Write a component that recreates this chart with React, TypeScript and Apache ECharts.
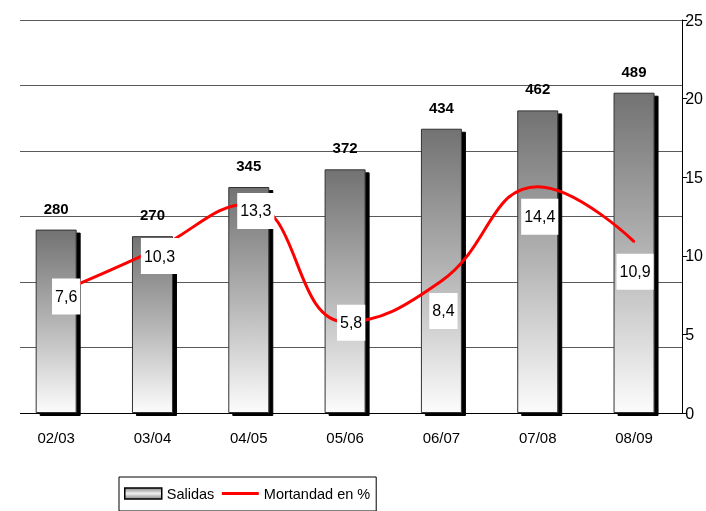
import React, { useEffect, useRef } from "react";
import * as echarts from "echarts";

const categories = ["02/03", "03/04", "04/05", "05/06", "06/07", "07/08", "08/09"];
const salidas = [280, 270, 345, 372, 434, 462, 489];
const mortandad = [7.6, 10.3, 13.3, 5.8, 8.4, 14.4, 10.9];
const leftTicks = { min: 0, max: 600, interval: 100 };
const rightTicks = { min: 0, max: 25, interval: 5 };
// label box offsets (styling only)
const labelOffsets = [
  [10, 3],
  [7, 5],
  [7, 7],
  [6, 1],
  [2, 30],
  [2, 30],
  [1, 30],
];

const FONT = "'Liberation Sans', Arial, sans-serif";

export default function App() {
  const ref = useRef<HTMLDivElement>(null);
  useEffect(() => {
    document.body.style.margin = "0";
    const chart = echarts.init(ref.current!, undefined, { renderer: "svg" });
    const barGradient = new echarts.graphic.LinearGradient(0, 0, 0, 1, [
      { offset: 0, color: "#727272" },
      { offset: 0.5, color: "#b4b4b4" },
      { offset: 1, color: "#fcfcfc" },
    ]);
    const legendGradient = new echarts.graphic.LinearGradient(0, 0, 0, 1, [
      { offset: 0, color: "#8a8a8a" },
      { offset: 0.5, color: "#f0f0f0" },
      { offset: 1, color: "#8a8a8a" },
    ]);
    chart.setOption({
      animation: false,
      textStyle: { fontFamily: FONT },
      grid: { left: 8, right: 21, top: 20, bottom: 98, containLabel: false },
      legend: {
        left: 119,
        top: 477,
        orient: "horizontal",
        borderColor: "#000",
        borderWidth: 1,
        padding: [9, 6, 10, 5],
        itemWidth: 37,
        itemHeight: 11,
        itemGap: 6,
        textStyle: { fontSize: 14.5, color: "#000", fontFamily: FONT },
        data: [
          {
            name: "Salidas",
            icon: "rect",
            itemStyle: {
              color: legendGradient,
              borderColor: "#000",
              borderWidth: 1.5,
              shadowColor: "rgba(0,0,0,0)",
              shadowOffsetX: 0,
              shadowOffsetY: 0,
            },
          },
          {
            name: "Mortandad en %",
            itemStyle: { color: "rgba(0,0,0,0)", borderWidth: 0 },
            lineStyle: { color: "#ff0000", width: 3 },
          },
        ],
      },
      xAxis: {
        type: "category",
        data: categories,
        axisLine: { lineStyle: { color: "#000", width: 1 } },
        axisTick: { length: 5, lineStyle: { color: "#000" } },
        axisLabel: { fontSize: 15, color: "#000", margin: 17, fontFamily: FONT },
      },
      yAxis: [
        {
          type: "value",
          ...leftTicks,
          axisLabel: { show: false },
          axisLine: { show: false },
          axisTick: { show: false },
          splitLine: { lineStyle: { color: "#5a5a5a", width: 1 } },
        },
        {
          type: "value",
          position: "right",
          ...rightTicks,
          axisLine: { show: true, lineStyle: { color: "#000" } },
          axisTick: { show: true, length: 5, lineStyle: { color: "#000" } },
          axisLabel: { fontSize: 16, color: "#000", margin: 3, fontFamily: FONT },
          splitLine: { show: false },
        },
      ],
      graphic: [
        {
          type: "rect",
          shape: { x: 0, y: 14, width: 20, height: 406 },
          style: { fill: "#fff" },
          z: 50,
        },
      ],
      series: [
        {
          name: "Salidas",
          type: "bar",
          yAxisIndex: 0,
          data: salidas,
          barWidth: 41,
          itemStyle: {
            color: barGradient,
            borderColor: "#333",
            borderWidth: 1,
            shadowColor: "#000",
            shadowBlur: 0,
            shadowOffsetX: 4,
            shadowOffsetY: 3,
          },
          label: {
            show: true,
            position: "top",
            distance: 14,
            fontSize: 15,
            fontWeight: "bold",
            color: "#000",
            fontFamily: FONT,
          },
        },
        {
          name: "Mortandad en %",
          type: "line",
          yAxisIndex: 1,
          smooth: 0.45,
          symbol: "circle",
          symbolSize: 2,
          showSymbol: true,
          itemStyle: { color: "#ff0000" },
          lineStyle: { color: "#ff0000", width: 3 },
          z: 5,
          data: mortandad.map((v, i) => ({
            value: v,
            label: { offset: labelOffsets[i] },
          })),
          label: {
            show: true,
            position: "inside",
            formatter: (p: any) => String(p.value).replace(".", ","),
            backgroundColor: "#fff",
            padding: [10, 3, 10, 3],
            fontSize: 16,
            color: "#000",
            fontFamily: FONT,
          },
        },
      ],
    });
    return () => chart.dispose();
  }, []);
  return <div ref={ref} style={{ width: 706, height: 511, position: "fixed", left: 0, top: 0 }} />;
}
